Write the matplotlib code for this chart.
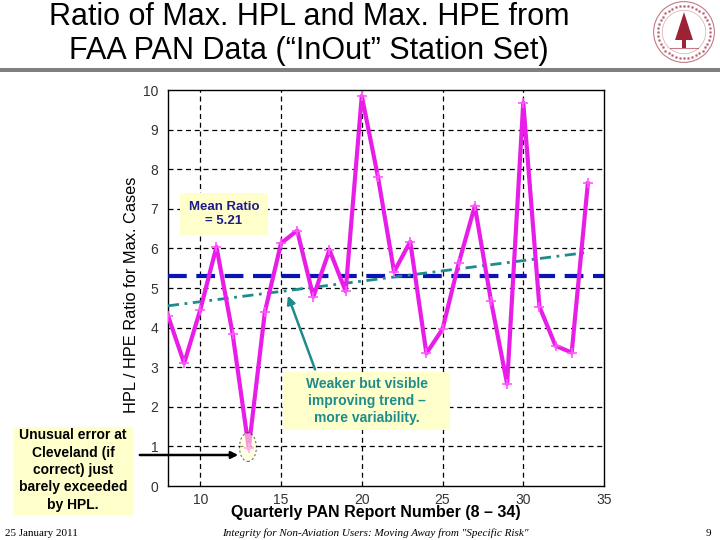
import matplotlib
matplotlib.use("Agg")
import matplotlib.pyplot as plt
from matplotlib.patches import Rectangle, Ellipse, Circle, Polygon, FancyArrowPatch
import numpy as np

# ---- data ----
report_numbers = list(range(8, 35))
ratios = [4.30, 3.10, 4.45, 6.04, 3.85, 0.95, 4.40, 6.13, 6.45, 4.78,
          5.96, 4.92, 9.85, 7.81, 5.41, 6.17, 3.35, 3.96, 5.62, 7.07,
          4.68, 2.58, 9.68, 4.53, 3.54, 3.37, 7.64]
mean_line_value = 5.3
trend_x = [8, 34]
trend_y = [4.55, 5.90]
x_ticks = [10, 15, 20, 25, 30, 35]
y_ticks = list(range(0, 11))

plt.rcParams['font.family'] = ['Liberation Sans', 'DejaVu Sans']

W, H = 720, 540
fig = plt.figure(figsize=(7.2, 5.4), dpi=100)

def fx(px):
    return px / W

def fy(py):
    return 1 - py / H

# axes: x=8 at 168px, x=35 at 604px ; y=0 at 486px, y=10 at 90px
ax = fig.add_axes([fx(168), fy(486), (604 - 168) / W, (486 - 90) / H])
ax.set_xlim(8, 35)
ax.set_ylim(0, 10)
ax.set_xticks(x_ticks)
ax.set_yticks(y_ticks)
ax.tick_params(axis='y', length=0, labelsize=10, colors='#333333', pad=7)
ax.tick_params(axis='x', length=0, labelsize=10, colors='#333333', pad=5)
for s in ax.spines.values():
    s.set_color('black')
    s.set_linewidth(1.0)
for xv in [10, 15, 20, 25, 30]:
    ax.axvline(xv, color='black', lw=0.9, ls=(0, (4, 3)), zorder=1)
for yv in range(1, 10):
    ax.axhline(yv, color='black', lw=0.9, ls=(0, (4, 3)), zorder=1)

# mean line
ax.plot([8, 35], [mean_line_value, mean_line_value], color='#0A14B4', lw=3,
        ls=(0, (4.5, 2.3)), zorder=3)
# trend line
ax.plot(trend_x, trend_y, color='#1E8C8C', lw=2.0, ls=(0, (4, 2, 1, 2)), zorder=4)
# data
ax.plot(report_numbers, ratios, color='#E81EE8', lw=3, marker='+', ms=7,
        mew=1.2, mec='#FF55FF', zorder=5)

# ellipse around Cleveland point
ell = Ellipse((12.95, 0.98), 1.05, 0.72, facecolor='#FFFFCC', alpha=0.55,
              edgecolor='black', lw=0.8, ls=(0, (2, 2)), zorder=6)
ax.add_patch(ell)

fig.text(fx(131), fy(295), 'HPL / HPE Ratio for Max. Cases', rotation=90,
         ha='center', va='center', fontsize=11.8)
fig.text(fx(376), fy(513), 'Quarterly PAN Report Number (8 \u2013 34)',
         ha='center', va='center', fontsize=11.5, fontweight='bold')

# title
fig.text(fx(309), fy(34), 'Ratio of Max. HPL and Max. HPE from\nFAA PAN Data (\u201cInOut\u201d Station Set)',
         ha='center', va='center', fontsize=22, linespacing=1.15)
fig.patches.append(Rectangle((0, fy(72)), 1, 4.5 / H, transform=fig.transFigure,
                             facecolor='#808080', edgecolor='none'))

# annotation boxes
def box(x0, y0, x1, y1):
    fig.patches.append(Rectangle((fx(x0), fy(y1)), (x1 - x0) / W, (y1 - y0) / H,
                                 transform=fig.transFigure, facecolor='#FFFFCC',
                                 edgecolor='none', zorder=2))

box(180, 193, 268, 235)
fig.text(fx(224), fy(214), 'Mean Ratio\n= 5.21', ha='center', va='center',
         fontsize=9.5, fontweight='bold', color='#1C1C8C', zorder=4, linespacing=1.2)

box(283, 372, 450, 430)
fig.text(fx(367), fy(401), 'Weaker but visible\nimproving trend \u2013\nmore variability.',
         ha='center', va='center', fontsize=10, fontweight='bold', color='#1E8C8C',
         zorder=4, linespacing=1.3)
fig.patches.append(FancyArrowPatch((fx(316), fy(372)), (fx(287), fy(293)),
                                   transform=fig.transFigure, arrowstyle='-|>',
                                   mutation_scale=12, color='#1E8C8C', lw=1.8, zorder=4))

box(13, 427, 133, 515)
fig.text(fx(73), fy(470), 'Unusual error at\nCleveland (if\ncorrect) just\nbarely exceeded\nby HPL.',
         ha='center', va='center', fontsize=10, fontweight='bold', color='black',
         zorder=4, linespacing=1.3)
fig.patches.append(FancyArrowPatch((fx(137), fy(455)), (fx(241), fy(455)),
                                   transform=fig.transFigure, arrowstyle='-|>',
                                   mutation_scale=10, color='black', lw=1.8, zorder=4))

# footer
fig.text(fx(5), fy(533), '25 January 2011', ha='left', va='center', fontsize=8,
         family=['Liberation Serif', 'DejaVu Serif'])
fig.text(fx(375), fy(533), 'Integrity for Non-Aviation Users: Moving Away from "Specific Risk"',
         ha='center', va='center', fontsize=8, style='italic',
         family=['Liberation Serif', 'DejaVu Serif'])
fig.text(fx(708), fy(533), '9', ha='center', va='center', fontsize=8,
         family=['Liberation Serif', 'DejaVu Serif'])

# logo (seal)
lax = fig.add_axes([fx(652), fy(64), 64 / W, 64 / H])
lax.set_xlim(-1, 1)
lax.set_ylim(-1, 1)
lax.set_aspect('equal')
lax.axis('off')
red = '#9B2335'
lax.add_patch(Circle((0, 0), 0.95, fill=False, ec=red, lw=0.8, alpha=0.6))
lax.add_patch(Circle((0, 0), 0.68, fill=False, ec=red, lw=0.5, alpha=0.4))
ang = np.linspace(0, 2 * np.pi, 40, endpoint=False)
lax.scatter(0.82 * np.cos(ang), 0.82 * np.sin(ang), s=1.2, color=red, alpha=0.45)
lax.add_patch(Polygon([[0, 0.62], [-0.28, -0.25], [0.28, -0.25]], closed=True,
                      fc=red, ec='none'))
lax.add_patch(Rectangle((-0.05, -0.5), 0.1, 0.3, fc=red, ec='none'))
lax.plot([-0.45, 0.45], [-0.5, -0.5], color=red, lw=0.8, alpha=0.6)

fig.savefig('out.png', dpi=100)
